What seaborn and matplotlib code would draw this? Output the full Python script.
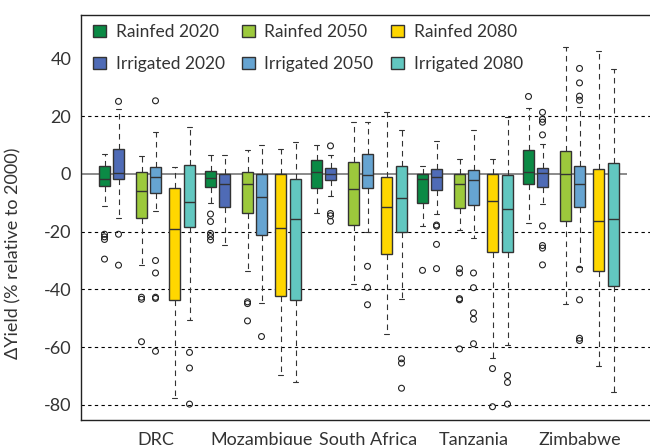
import numpy as np
import pandas as pd
import matplotlib
matplotlib.use("Agg")
import matplotlib.pyplot as plt
from matplotlib.patches import Patch
import seaborn as sns

# ---- data (box stats per country x series) ----
countries = ["DRC", "Mozambique", "South Africa", "Tanzania", "Zimbabwe"]
series = ["Rainfed 2020", "Irrigated 2020", "Rainfed 2050",
          "Irrigated 2050", "Rainfed 2080", "Irrigated 2080"]
colors = ["#0b8a45", "#4f6bb6", "#9cc93c", "#66a4d1", "#ffd700", "#62c7c0"]

whisker_high = [[6.9, 22.4, 6.2, 14.4, 2.3, 16.4],
                [6.4, 6.4, 8.3, 9.9, 8.5, 11.0],
                [9.9, 6.5, 18.0, 18.0, 21.4, 15.2],
                [2.7, 11.4, 5.2, 15.2, 5.2, 19.7],
                [22.7, 10.4, 44.0, 23.0, 42.4, 36.3]]
upper_q = [[2.7, 8.5, 0.7, 2.5, -4.8, 3.2],
           [1.0, -0.1, 0.7, -0.1, -0.1, -1.9],
           [4.8, 1.9, 4.0, 6.9, -1.0, 2.9],
           [-0.1, 1.6, -0.1, 1.4, -0.1, -0.4],
           [8.3, 1.9, 8.0, 2.9, 1.6, 3.7]]
medians = [[-1.7, 0.4, -6.0, -1.2, -19.2, -9.7],
           [-1.3, -3.5, -3.6, -8.1, -18.6, -15.7],
           [0.6, 0.0, -5.1, -0.5, -11.4, -8.3],
           [-1.7, -1.0, -3.6, -2.2, -9.3, -12.1],
           [0.8, 0.4, 0.0, -3.5, -16.4, -15.7]]
lower_q = [[-4.1, -1.9, -15.4, -6.7, -43.8, -18.4],
           [-4.5, -11.5, -13.4, -21.2, -42.3, -43.6],
           [-4.9, -2.1, -17.6, -5.0, -27.6, -20.2],
           [-10.2, -5.6, -11.9, -10.6, -26.9, -27.2],
           [-3.6, -4.4, -16.4, -11.5, -33.6, -38.9]]
whisker_low = [[-11.1, -15.3, -31.6, -12.8, -77.7, -50.7],
               [-10.2, -24.5, -33.7, -44.8, -69.7, -72.2],
               [-13.7, -7.6, -38.0, -20.1, -55.3, -43.2],
               [-18.0, -13.9, -19.5, -22.2, -63.7, -59.4],
               [-17.0, -10.5, -45.2, -32.3, -66.4, -75.6]]

# outliers, one list per series, per country
outliers_drc = [[-20.9, -21.8, -22.7, -29.5], [25.1, -20.9, -31.6],
                [-42.7, -43.4, -58.1], [25.3, -30.0, -34.3, -42.7, -43.1, -61.4],
                [], [-61.8, -67.2, -79.7]]
outliers_moz = [[-13.9, -16.5, -20.6, -21.7, -22.9], [],
                [-44.3, -44.9, -50.9], [-56.3], [], []]
outliers_sa = [[], [9.7, -13.7, -14.5, -16.4], [], [-32.0, -39.3, -45.3],
               [], [-64.0, -65.5, -74.2]]
outliers_tza = [[-33.4], [-17.7, -18.1, -24.4, -32.8],
                [-32.8, -34.3, -43.2, -43.6, -60.6],
                [-34.3, -39.4, -48.1, -50.3, -58.8],
                [-67.4, -80.6], [-69.8, -72.2, -79.7]]
outliers_zwe = [[26.8], [21.3, 18.9, 17.9, 13.5, -18.0, -24.8, -25.7, -31.5],
                [], [36.5, 31.5, 26.9, 25.5, -33.0, -43.6, -56.9, -57.7],
                [], []]
outliers = [outliers_drc, outliers_moz, outliers_sa, outliers_tza, outliers_zwe]

# layout: box offsets inside a country group (group spacing = 1)
offsets = np.array([0, 14, 37, 51, 70, 85]) / 106
tick_offset = 51.5 / 106

# build long tables (5 points per box reproduce its quartiles/whiskers exactly)
rows, out_rows = [], []
for i, c in enumerate(countries):
    for j, s in enumerate(series):
        pos = i + offsets[j]
        for v in (whisker_low[i][j], lower_q[i][j], medians[i][j],
                  upper_q[i][j], whisker_high[i][j]):
            rows.append({"pos": pos, "value": v, "series": s})
        for v in outliers[i][j]:
            out_rows.append({"pos": pos, "value": v})
df = pd.DataFrame(rows)
out_df = pd.DataFrame(out_rows)

# ---- plot ----
sns.set_style("white")
plt.rcParams["font.family"] = ["Lato", "DejaVu Sans"]
text_col = "#333333"

fig = plt.figure(figsize=(6.5, 4.45), dpi=100)
ax = fig.add_axes([81 / 650, 25 / 445, 1 - 81 / 650, 405 / 445])

for y in [20, -20, -40, -60, -80]:
    ax.axhline(y, color="black", lw=0.8, ls=(0, (3, 3)), zorder=0)
ax.hlines(0, -0.3, len(countries) - 1 + offsets[-1] + 0.13,
          color="#777777", lw=1.2, zorder=0.5)

sns.boxplot(data=df, x="pos", y="value", hue="series", hue_order=series,
            palette=colors, saturation=1, native_scale=True, dodge=False,
            width=0.75, whis=np.inf, linecolor="#333333", linewidth=1.0,
            whiskerprops=dict(linestyle=(0, (5, 4)), linewidth=0.8),
            capprops=dict(linewidth=0.8),
            legend=False, ax=ax)

sns.scatterplot(data=out_df, x="pos", y="value", marker="o", s=18,
                fc="none", ec="#222222", linewidth=0.8, ax=ax, zorder=3)

ax.set_xlim(-23.5 / 106, (650 - 104.5) / 106)
ax.set_ylim(-85.2, 55.0)
ax.set_xticks(np.arange(len(countries)) + tick_offset)
ax.set_xticklabels(countries)
ax.set_yticks([40, 20, 0, -20, -40, -60, -80])
ax.set_yticklabels(["40", "20", "0", "-20", "-40", "-60", "-80"])
ax.set_xlabel("")
ax.set_ylabel("\u0394Yield (% relative to 2000)", fontsize=13, color=text_col)
ax.yaxis.set_label_coords(-0.104, 0.412)
ax.tick_params(axis="both", direction="out", length=5, width=0.8,
               colors="#222222", labelcolor=text_col, labelsize=13)
ax.tick_params(axis="y", pad=2)
for side in ["left", "bottom", "top"]:
    ax.spines[side].set_color("#222222")
    ax.spines[side].set_linewidth(1.0)
ax.spines["right"].set_visible(False)

handles = [Patch(facecolor=c, edgecolor="#333333", lw=1, label=s)
           for s, c in zip(series, colors)]
ax.legend(handles=handles, ncol=3, loc="upper left", frameon=False,
          bbox_to_anchor=(93 / 650, 1 - 24 / 445),
          bbox_transform=fig.transFigure, borderaxespad=0, borderpad=0,
          fontsize=12.5, handlelength=0.75, handleheight=0.75,
          handletextpad=0.55, columnspacing=1.0, labelspacing=0.93,
          labelcolor=text_col)

fig.savefig("out.png", dpi=100)
